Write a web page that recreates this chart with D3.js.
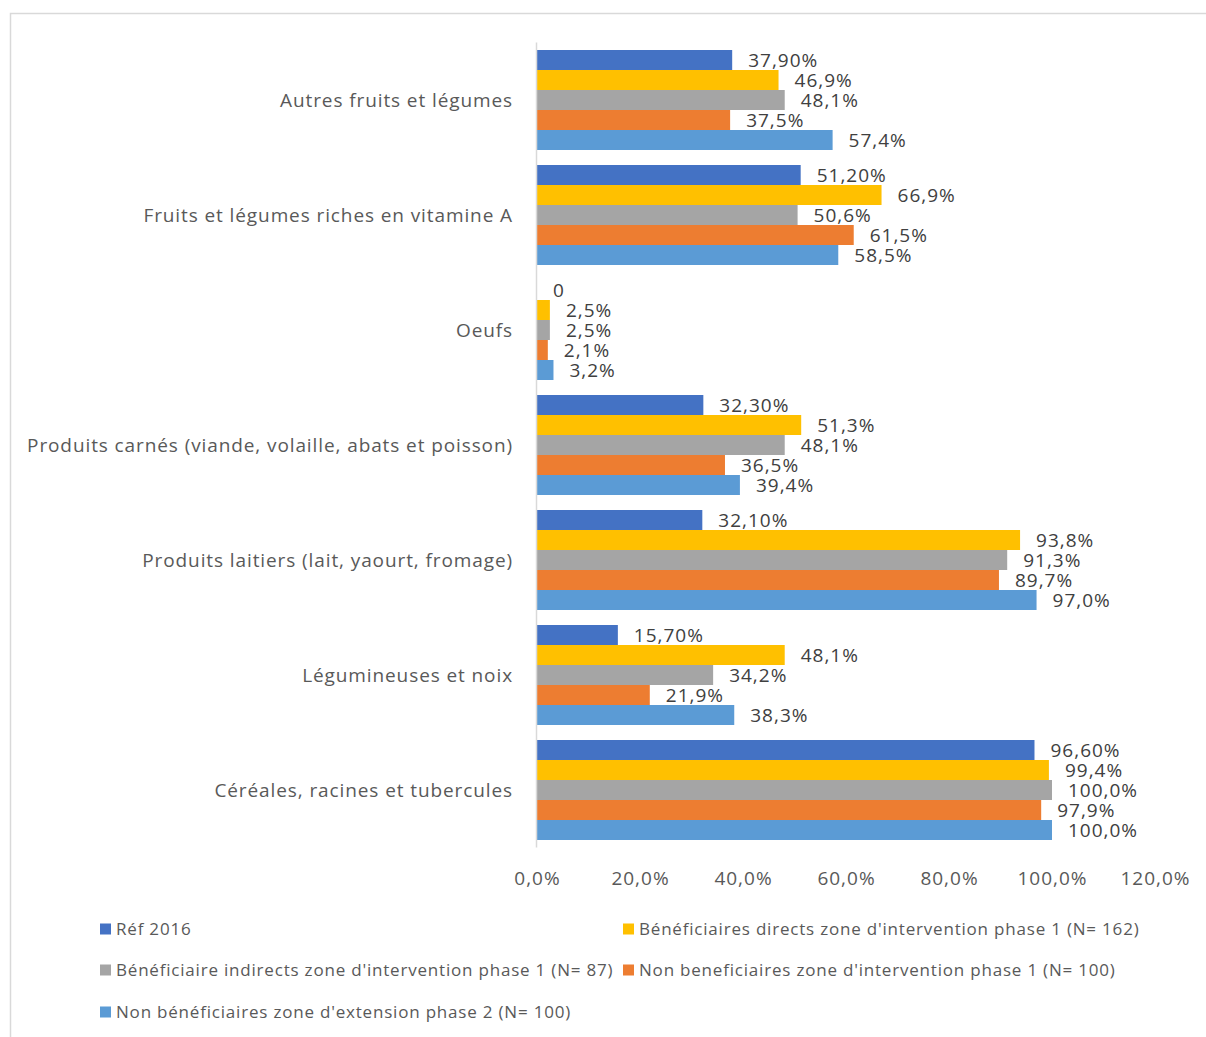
<!DOCTYPE html>
<html>
<head>
<meta charset="utf-8">
<script src="https://cdn.jsdelivr.net/npm/d3@7"></script>
<style>
  body { margin: 0; background: #fff; }
  svg { font-family: "Open Sans", sans-serif; }
</style>
</head>
<body>
<div id="chart"></div>
<script>
// categories top to bottom
var categories = [
  "Autres fruits et légumes",
  "Fruits et légumes riches en vitamine A",
  "Oeufs",
  "Produits carnés (viande, volaille, abats et poisson)",
  "Produits laitiers (lait, yaourt, fromage)",
  "Légumineuses et noix",
  "Céréales, racines et tubercules"
]

var series = [
  "Réf 2016",
  "Bénéficiaires directs zone d'intervention phase 1 (N= 162)",
  "Bénéficiaire indirects zone d'intervention phase 1 (N= 87)",
  "Non beneficiaires zone d'intervention phase 1 (N= 100)",
  "Non bénéficiaires zone d'extension phase 2 (N= 100)"
]

var colors = ["#4472C4", "#FFC000", "#A5A5A5", "#ED7D31", "#5B9BD5"]

// values per series, same order as categories
var ref2016      = [37.9, 51.2, 0,   32.3, 32.1, 15.7, 96.6]
var directs      = [46.9, 66.9, 2.5, 51.3, 93.8, 48.1, 99.4]
var indirects    = [48.1, 50.6, 2.5, 48.1, 91.3, 34.2, 100.0]
var nonBenef     = [37.5, 61.5, 2.1, 36.5, 89.7, 21.9, 97.9]
var nonBenefExt  = [57.4, 58.5, 3.2, 39.4, 97.0, 38.3, 100.0]

var values = [ref2016, directs, indirects, nonBenef, nonBenefExt]

var xTicks = [0, 20, 40, 60, 80, 100, 120]

var width = 1206, height = 1037

var svg = d3.select("#chart").append("svg")
  .attr("width", width)
  .attr("height", height)

// chart frame
svg.append("rect")
  .attr("x", 10.5).attr("y", 13.5)
  .attr("width", 1210).attr("height", 1040)
  .attr("fill", "none")
  .attr("stroke", "#d9d9d9")
  .attr("stroke-width", 1.5)

var x = d3.scaleLinear().domain([0, 120]).range([537, 1155])

var y0 = d3.scaleBand()
  .domain(categories)
  .range([42.5, 847.5])
  .paddingInner(15 / 115)
  .paddingOuter(7.5 / 115)

var y1 = d3.scaleBand()
  .domain(d3.range(series.length))
  .range([0, y0.bandwidth()])

var comma = function(v, digits) { return v.toFixed(digits).replace(".", ",") }
function fmt(v, s) {
  if (s === 0) { return v === 0 ? "0" : comma(v, 2) + "%" }
  return comma(v, 1) + "%"
}

var rows = []
categories.forEach(function(c, i) {
  values.forEach(function(arr, s) {
    rows.push({ cat: c, s: s, v: arr[i] })
  })
})

var g = svg.append("g")

g.selectAll("rect.bar")
  .data(rows)
  .enter()
  .append("rect")
  .attr("class", "bar")
  .attr("x", x(0))
  .attr("y", function(d) { return y0(d.cat) + y1(d.s) })
  .attr("width", function(d) { return x(d.v) - x(0) })
  .attr("height", y1.bandwidth())
  .attr("fill", function(d) { return colors[d.s] })

g.selectAll("text.lbl")
  .data(rows)
  .enter()
  .append("text")
  .attr("class", "lbl")
  .attr("x", function(d) { return x(d.v) + 16 })
  .attr("y", function(d) { return y0(d.cat) + y1(d.s) + y1.bandwidth() / 2 })
  .attr("dy", "0.36em")
  .attr("font-size", 19)
  .attr("letter-spacing", 1)
  .attr("fill", "#404040")
  .text(function(d) { return fmt(d.v, d.s) })

// vertical axis line
svg.append("line")
  .attr("x1", x(0) - 0.5).attr("x2", x(0) - 0.5)
  .attr("y1", 42.5).attr("y2", 847.5)
  .attr("stroke", "#d9d9d9")
  .attr("stroke-width", 1.5)

// category labels
svg.selectAll("text.cat")
  .data(categories)
  .enter()
  .append("text")
  .attr("class", "cat")
  .attr("x", 513)
  .attr("y", function(d) { return y0(d) + y0.bandwidth() / 2 })
  .attr("dy", "0.36em")
  .attr("text-anchor", "end")
  .attr("font-size", 19)
  .attr("letter-spacing", 0.9)
  .attr("fill", "#595959")
  .text(function(d) { return d })

// x axis
var xAxis = d3.axisBottom(x)
  .tickValues(xTicks)
  .tickSize(0)
  .tickPadding(0)
  .tickFormat(function(d) { return comma(d, 1) + "%" })

var ax = svg.append("g")
  .attr("transform", "translate(0,878)")
  .call(xAxis)
ax.select(".domain").remove()
ax.selectAll("text")
  .attr("dy", "0.36em")
  .attr("font-size", 19)
  .attr("letter-spacing", 1)
  .attr("font-family", "Open Sans, sans-serif")
  .attr("fill", "#595959")

// legend
var legendPos = [
  [100, 929], [623, 929],
  [100, 970], [623, 970],
  [100, 1012]
]

var leg = svg.selectAll("g.leg")
  .data(series)
  .enter()
  .append("g")
  .attr("class", "leg")
  .attr("transform", function(d, i) { return "translate(" + legendPos[i][0] + "," + legendPos[i][1] + ")" })

leg.append("rect")
  .attr("x", 0).attr("y", -5.5)
  .attr("width", 11).attr("height", 11)
  .attr("fill", function(d, i) { return colors[i] })

leg.append("text")
  .attr("x", 16)
  .attr("dy", "0.36em")
  .attr("font-size", 17)
  .attr("letter-spacing", 0.8)
  .attr("fill", "#595959")
  .text(function(d) { return d })
</script>
</body>
</html>
